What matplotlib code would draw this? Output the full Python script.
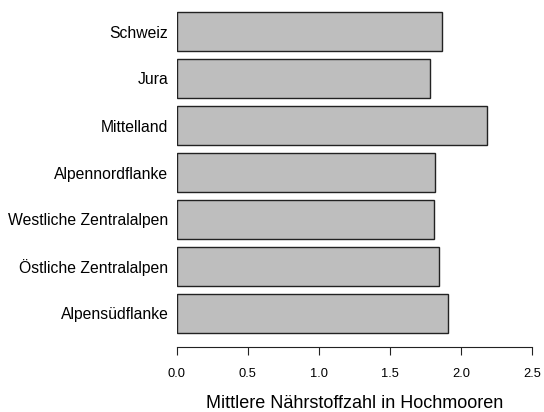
import matplotlib
matplotlib.use('Agg')
import matplotlib.pyplot as plt

regions = ['Schweiz', 'Jura', 'Mittelland', 'Alpennordflanke',
           'Westliche Zentralalpen', 'Östliche Zentralalpen', 'Alpensüdflanke']
values = [1.864, 1.784, 2.182, 1.817, 1.810, 1.842, 1.906]
xticks = [0.0, 0.5, 1.0, 1.5, 2.0, 2.5]

plt.rcParams['font.family'] = ['Liberation Sans', 'DejaVu Sans']

fig = plt.figure(figsize=(5.44, 4.12), dpi=100)
ax = fig.add_axes([176.7 / 544, 1 - 337 / 412, 355.6 / 544, 329 / 412])

pos = list(range(len(regions)))
ax.barh(pos, values, height=0.836, color='#bebebe', edgecolor='#222222', linewidth=1.0)
ax.set_ylim(6.5, -0.5)
ax.set_xlim(0, 2.5)

for s in ['top', 'right', 'left']:
    ax.spines[s].set_visible(False)
ax.spines['bottom'].set_position(('outward', 7.2))
ax.spines['bottom'].set_bounds(0, 2.5)
ax.spines['bottom'].set_color('#222222')

ax.set_xticks(xticks)
ax.set_xticklabels(['%.1f' % t for t in xticks], fontsize=9.3)
ax.tick_params(axis='x', length=5.8, pad=9, color='#222222')
ax.set_yticks(pos)
ax.set_yticklabels(regions, fontsize=11.3)
ax.tick_params(axis='y', length=0, pad=6)
ax.set_xlabel('Mittlere Nährstoffzahl in Hochmooren', fontsize=13, labelpad=11)

fig.savefig('out.png', dpi=100)
